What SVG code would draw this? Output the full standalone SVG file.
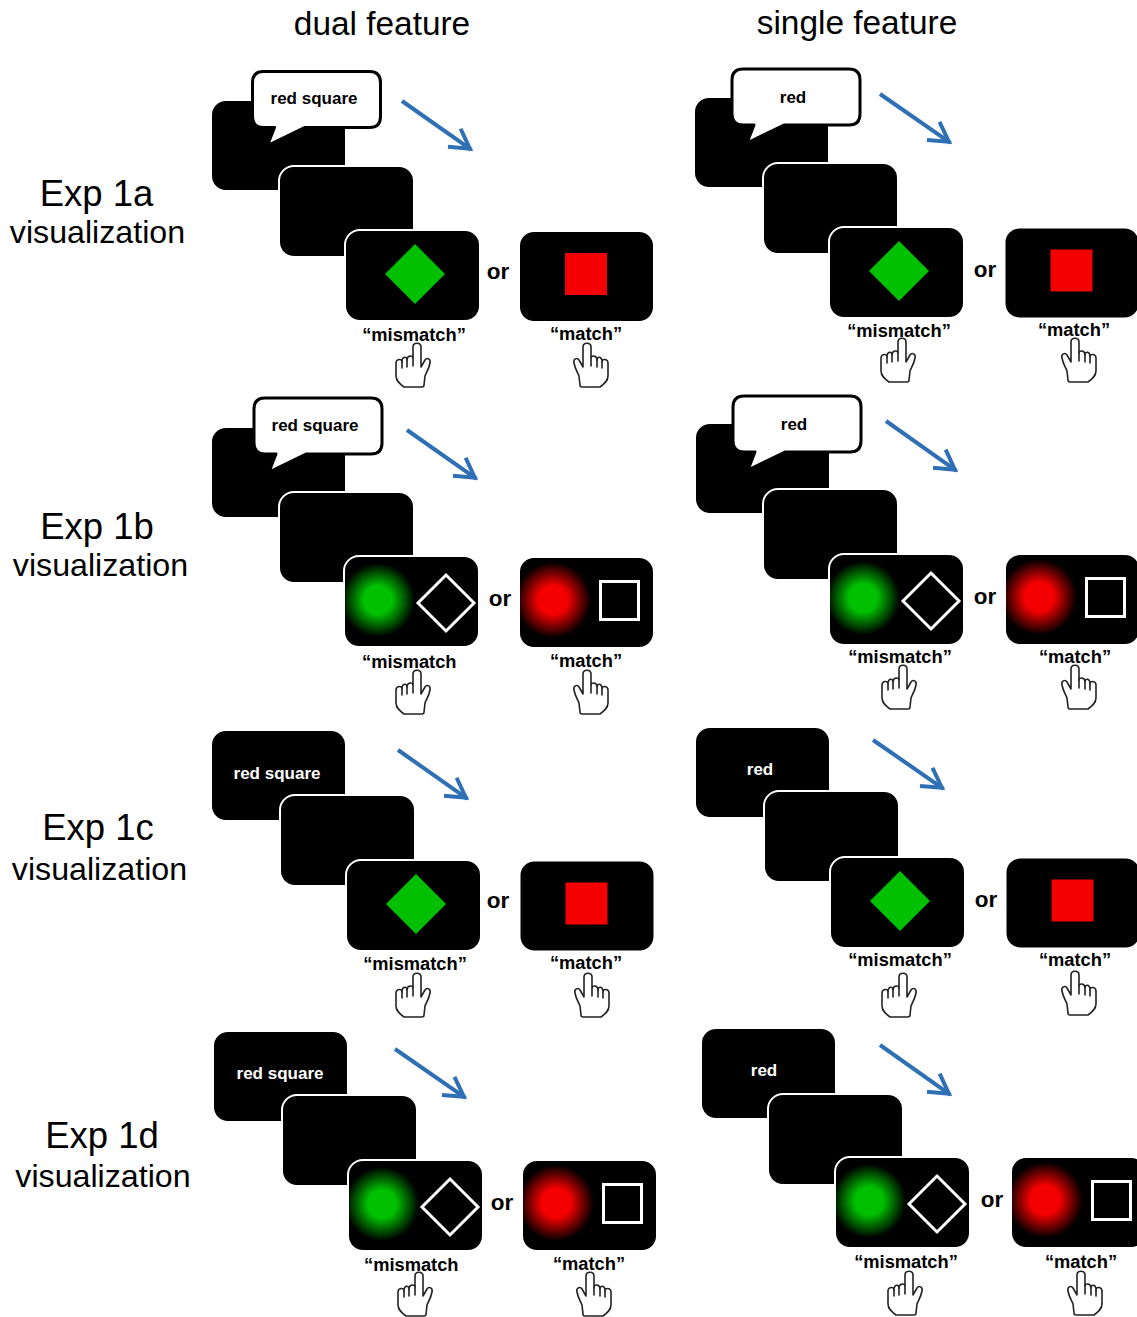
<svg xmlns="http://www.w3.org/2000/svg" width="1137" height="1317" viewBox="0 0 1137 1317">
<style>
text{font-family:"Liberation Sans",Arial,sans-serif;fill:#000}
.h{font-size:33.400px;text-anchor:middle}
.e{font-size:36.500px;text-anchor:middle}
.v{font-size:32.200px;text-anchor:middle}
.c{font-size:17px;font-weight:700;text-anchor:middle}
.w{fill:#fff}
.l{font-size:18.300px;font-weight:700;text-anchor:middle}
.ls{font-size:18.300px;font-weight:700;text-anchor:start}
.o{font-size:22.500px;font-weight:700;text-anchor:middle}
.p{fill:#000;stroke:#fff;stroke-width:2}
.a{fill:none;stroke:#2f70b5;stroke-width:4;marker-end:url(#ah)}
.hd{fill:#fff;stroke:#222;stroke-width:1.600;stroke-linejoin:round;stroke-linecap:round}
</style>
<defs>
<marker id="ah" markerUnits="userSpaceOnUse" markerWidth="34" markerHeight="34" viewBox="-26 -17 34 34" refX="2" refY="0" orient="auto" overflow="visible">
<path d="M-19 -11L0 0L-19 11" fill="none" stroke="#2f70b5" stroke-width="4"/>
</marker>
<radialGradient id="gg"><stop offset="0.38" stop-color="#00c000"/><stop offset="1" stop-color="#000"/></radialGradient>
<radialGradient id="rg"><stop offset="0.38" stop-color="#f50000"/><stop offset="1" stop-color="#000"/></radialGradient>
<clipPath id="pc"><rect width="133" height="89" rx="14"/></clipPath>
<rect id="panel" class="p" x="-1" y="-1" width="135" height="91" rx="15"/>
<g id="hand"><path class="hd" d="M9 44C5 41 1 38 1 33L1 20C1 16 7 15 7 19C7 13 12 13 12 17C12 12 18 12 18 15L18 4C18 -1 26 -1 26 4L26 24L30 17C32 14 36 16 35 20C34 26 31 30 30 33L29 42Q29 44 27 44Z"/><path class="hd" fill="none" d="M7 19L7 25M12 17L12 24M18 15L18 23"/></g>
<path id="bubble" d="M11 0H117Q128 0 128 11V45Q128 56 117 56H52L15 74L22 56H11Q0 56 0 45V11Q0 0 11 0Z" fill="#fff" stroke="#000" stroke-width="3" stroke-linejoin="round"/>
<g id="mm"><use href="#panel"/><path d="M69 13L99 43L69 73L39 43Z" fill="#00c000"/></g>
<g id="ms"><use href="#panel"/><rect x="45" y="21" width="42" height="42" fill="#f50000"/></g>
<g id="gm"><use href="#panel"/><circle cx="33" cy="43" r="37" fill="url(#gg)" clip-path="url(#pc)"/><path d="M101 18L129 46L101 74L73 46Z" fill="none" stroke="#fff" stroke-width="3"/></g>
<g id="gs"><use href="#panel"/><circle cx="33" cy="42" r="38" fill="url(#rg)" clip-path="url(#pc)"/><rect x="80.500" y="23.500" width="38" height="38" fill="none" stroke="#fff" stroke-width="3"/></g>
</defs>
<rect width="1137" height="1317" fill="#fff"/>
<g id="headers"><text class="h" x="382" y="35">dual feature</text><text class="h" x="857" y="34">single feature</text></g>
<g id="rows">
<g id="label-1a"><text class="e" x="96.500" y="206">Exp 1a</text><text class="v" x="97.500" y="243">visualization</text></g>
<g id="label-1b"><text class="e" x="97" y="539">Exp 1b</text><text class="v" x="100.500" y="576">visualization</text></g>
<g id="label-1c"><text class="e" x="98" y="840">Exp 1c</text><text class="v" x="99.500" y="880">visualization</text></g>
<g id="label-1d"><text class="e" x="102" y="1148">Exp 1d</text><text class="v" x="103" y="1187">visualization</text></g>
</g>

<g id="exp1a-dual">
<g id="a-d-cue"><use href="#panel" x="212" y="101"/><use href="#bubble" x="252.500" y="71.500"/><text class="c" x="314" y="104">red square</text></g>
<use id="a-d-blank" href="#panel" x="280" y="167"/>
<use id="a-d-mis" href="#mm" x="346" y="231"/>
<use id="a-d-mat" href="#ms" x="520" y="232"/>
<text class="o" x="498" y="279">or</text>
<text class="l" x="414" y="341">“mismatch”</text><text class="l" x="586" y="340">“match”</text>
<use href="#hand" x="395" y="343"/><use href="#hand" transform="translate(609,343) scale(-1,1)"/>
</g>
<g id="exp1a-single">
<g id="a-s-cue"><use href="#panel" x="695" y="98"/><use href="#bubble" x="732" y="69"/><text class="c" x="793" y="103">red</text></g>
<use id="a-s-blank" href="#panel" x="764" y="164"/>
<use id="a-s-mis" href="#mm" x="830" y="228"/>
<use id="a-s-mat" href="#ms" x="1005.500" y="228.500"/>
<text class="o" x="985" y="277">or</text>
<text class="l" x="899" y="337">“mismatch”</text><text class="l" x="1074" y="336">“match”</text>
<use href="#hand" x="880" y="338"/><use href="#hand" transform="translate(1097,338) scale(-1,1)"/>
</g>
<g id="exp1b-dual">
<g id="b-d-cue"><use href="#panel" x="212" y="428"/><use href="#bubble" x="254" y="398"/><text class="c" x="315" y="431">red square</text></g>
<use id="b-d-blank" href="#panel" x="280" y="493"/>
<use id="b-d-mis" href="#gm" x="345" y="557"/>
<use id="b-d-mat" href="#gs" x="520" y="558"/>
<text class="o" x="500" y="606">or</text>
<text class="ls" x="362" y="668">“mismatch</text><text class="l" x="586" y="667">“match”</text>
<use href="#hand" x="395" y="670"/><use href="#hand" transform="translate(609,670) scale(-1,1)"/>
</g>
<g id="exp1b-single">
<g id="b-s-cue"><use href="#panel" x="696" y="424"/><use href="#bubble" x="733" y="396"/><text class="c" x="794" y="430">red</text></g>
<use id="b-s-blank" href="#panel" x="764" y="490"/>
<use id="b-s-mis" href="#gm" x="830" y="555"/>
<use id="b-s-mat" href="#gs" x="1006" y="555"/>
<text class="o" x="985" y="604">or</text>
<text class="l" x="900" y="663">“mismatch”</text><text class="l" x="1075" y="663">“match”</text>
<use href="#hand" x="881" y="665"/><use href="#hand" transform="translate(1097,665) scale(-1,1)"/>
</g>
<g id="exp1c-dual">
<g id="c-d-cue"><use href="#panel" x="212" y="731"/><text class="c w" x="277" y="779">red square</text></g>
<use id="c-d-blank" href="#panel" x="281" y="796"/>
<use id="c-d-mis" href="#mm" x="347" y="861"/>
<use id="c-d-mat" href="#ms" x="520.500" y="861.500"/>
<text class="o" x="498" y="908">or</text>
<text class="l" x="415" y="970">“mismatch”</text><text class="l" x="586" y="969">“match”</text>
<use href="#hand" x="395" y="973"/><use href="#hand" transform="translate(610,973) scale(-1,1)"/>
</g>
<g id="exp1c-single">
<g id="c-s-cue"><use href="#panel" x="696" y="728"/><text class="c w" x="760" y="775">red</text></g>
<use id="c-s-blank" href="#panel" x="765" y="792"/>
<use id="c-s-mis" href="#mm" x="831" y="858"/>
<use id="c-s-mat" href="#ms" x="1006.500" y="858.500"/>
<text class="o" x="986" y="907">or</text>
<text class="l" x="900" y="966">“mismatch”</text><text class="l" x="1075" y="966">“match”</text>
<use href="#hand" x="881" y="973"/><use href="#hand" transform="translate(1097,971) scale(-1,1)"/>
</g>
<g id="exp1d-dual">
<g id="d-d-cue"><use href="#panel" x="214" y="1032"/><text class="c w" x="280" y="1079">red square</text></g>
<use id="d-d-blank" href="#panel" x="283" y="1096"/>
<use id="d-d-mis" href="#gm" x="349" y="1161"/>
<use id="d-d-mat" href="#gs" x="523" y="1161"/>
<text class="o" x="502" y="1210">or</text>
<text class="ls" x="364" y="1271">“mismatch</text><text class="l" x="589" y="1270">“match”</text>
<use href="#hand" x="397" y="1272"/><use href="#hand" transform="translate(612,1272) scale(-1,1)"/>
</g>
<g id="exp1d-single">
<g id="d-s-cue"><use href="#panel" x="702" y="1029"/><text class="c w" x="764" y="1076">red</text></g>
<use id="d-s-blank" href="#panel" x="769" y="1095"/>
<use id="d-s-mis" href="#gm" x="836" y="1158"/>
<use id="d-s-mat" href="#gs" x="1012" y="1158"/>
<text class="o" x="992" y="1207">or</text>
<text class="l" x="906" y="1268">“mismatch”</text><text class="l" x="1081" y="1268">“match”</text>
<use href="#hand" x="887" y="1271"/><use href="#hand" transform="translate(1103,1271) scale(-1,1)"/>
</g>
<g id="connectors">
<path class="a" d="M402 101L471.500 149.800"/>
<path class="a" d="M880 94L950.500 142.800"/>
<path class="a" d="M407 430L476.500 478.800"/>
<path class="a" d="M886 421L956.500 470.800"/>
<path class="a" d="M398 750L467.500 798.800"/>
<path class="a" d="M873 740L943.500 788.800"/>
<path class="a" d="M395 1049L465.500 1097.800"/>
<path class="a" d="M880 1045L950.500 1094.800"/>
</g>
</svg>
